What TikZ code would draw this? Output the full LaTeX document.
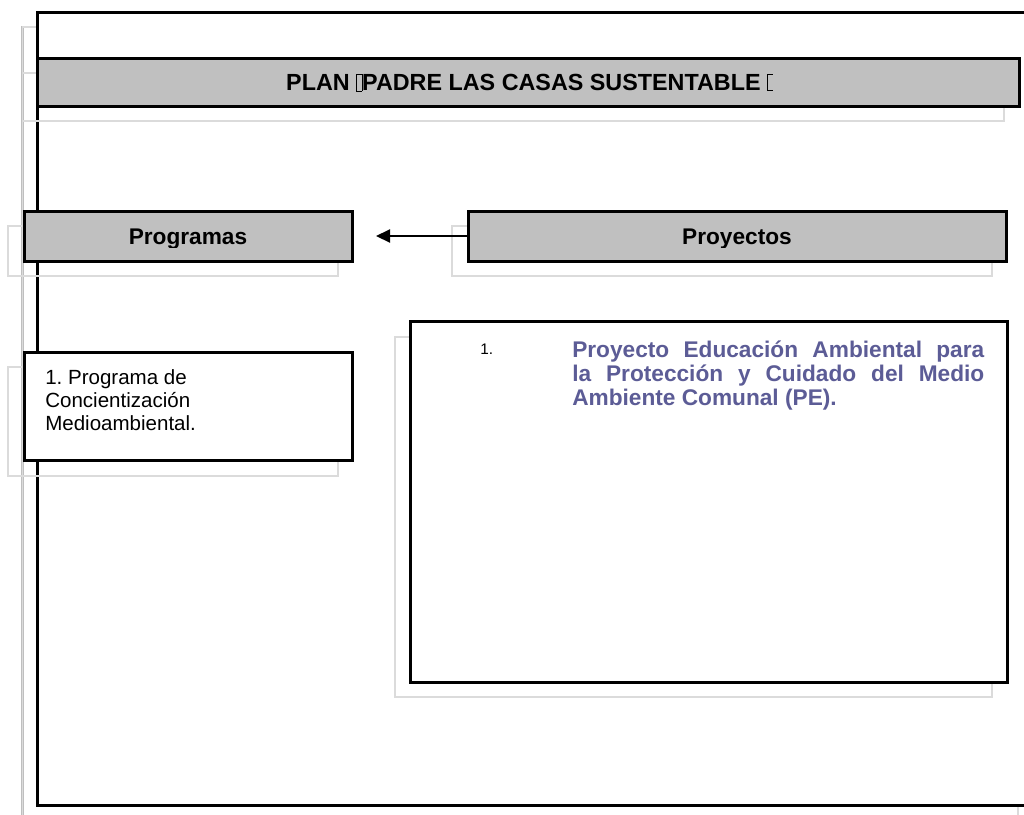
\documentclass[tikz,border=0pt]{standalone}
\usepackage{fontspec}
\setmainfont{Liberation Sans}
\usetikzlibrary{arrows.meta,fit}
\definecolor{boxgray}{HTML}{C0C0C0}
\definecolor{projblue}{RGB}{92,92,150}
\newcommand{\tofubox}{{\setlength\fboxsep{0pt}\setlength\fboxrule{0.5pt}\fbox{\rule{0pt}{0.7em}\hspace{0.2em}}}}
\newcommand{\tofuopen}{\rlap{\rule{0.25em}{0.5pt}}\rlap{\raisebox{0.7em}{\rule{0.25em}{0.5pt}}}\rule{0.5pt}{0.72em}\hspace{0.25em}}
\frenchspacing
\begin{document}
\begin{tikzpicture}[x=0.75pt,y=-0.75pt,
  shadowline/.style={draw=gray!50,double=gray!28,line width=0.55pt,double distance=0.9pt},
  boxframe/.style={draw=black,line width=2.25pt,inner sep=0pt},
  graybox/.style={boxframe,fill=boxgray},
  whitebox/.style={boxframe,fill=white},
  headtext/.style={font=\fontsize{17}{20}\selectfont\bfseries,inner sep=0pt,anchor=base},
  bodytext/.style={font=\fontsize{15.4}{17.25}\selectfont,inner sep=0pt,align=left,anchor=north west},
  projtext/.style={font=\fontsize{17}{18}\selectfont\bfseries,text=projblue,inner sep=0pt,
                   text width=309pt,align=justify,anchor=north west},
  arrowline/.style={line width=1.6pt,-{Triangle[length=10.5pt,width=9.75pt]}}]
\useasboundingbox (0,0) rectangle (1024,814);
\clip (0,0) rectangle (1024,814);

% outer frame
\draw[shadowline] (22.5,27) rectangle (1018,840);
\node[whitebox,fit={(37.5,12) (1033,805.5)}] (frame) {};

% title
\draw[shadowline] (22.5,73) rectangle (1004,121);
\node[graybox,fit={(37.5,58) (1019,106)}] (titlebar) {};
\node[headtext,font=\fontsize{17.5}{21}\selectfont\bfseries] (titletext) at (527,90.5)
  {PLAN \tofubox PADRE LAS CASAS SUSTENTABLE \tofuopen};

% Programas header
\draw[shadowline] (8,226) rectangle (338,276);
\node[graybox,fit={(24,211) (352,261)}] (prog) {};
% Proyectos header
\draw[shadowline] (452,226) rectangle (992,276);
\node[graybox,fit={(468,211) (1006,261)}] (proy) {};
\begin{scope}
\clip (0,200) rectangle (1024,247);
\node[headtext] (progtext) at (188,244) {Programas};
\node[headtext] (proytext) at (737,244) {Proyectos};
\end{scope}

% arrow
\coordinate (arrowend) at (376,236);
\draw[arrowline] (proy.west) -- (arrowend);

% program item
\draw[shadowline] (8,367) rectangle (338,476);
\node[whitebox,fit={(24,352) (352,460)}] (progitem) {};
\node[bodytext] (progitemtext) at (45,369)
  {1. Programa de\\Concientización\\Medioambiental.};

% project item
\draw[shadowline] (395,337) rectangle (992,697);
\node[whitebox,fit={(410,321) (1007,682)}] (proyitem) {};
\node[font=\fontsize{11.5}{13}\selectfont,inner sep=0pt,anchor=base west] (proynum) at (480,354) {1.};
\node[projtext] (proyitemtext) at (572,340.5)
  {Proyecto Educación Ambiental para\linebreak la Protección y Cuidado del Medio\linebreak Ambiente Comunal (PE).};
\end{tikzpicture}
\end{document}
